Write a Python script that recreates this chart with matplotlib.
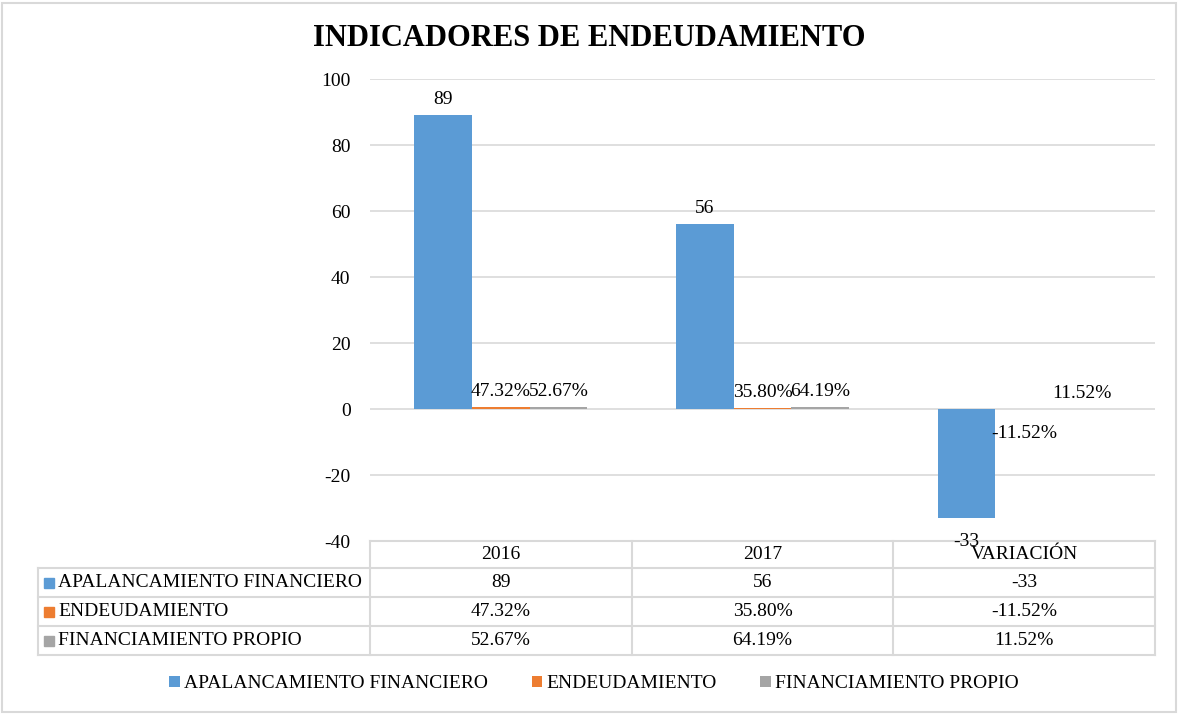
import matplotlib.pyplot as plt
from matplotlib.lines import Line2D
from matplotlib.patches import Rectangle
import numpy as np

plt.rcParams['font.family'] = ['Liberation Serif', 'DejaVu Serif']

# chart data
categories = ['2016', '2017', 'VARIACIÓN']
series_names = ['APALANCAMIENTO FINANCIERO', 'ENDEUDAMIENTO', 'FINANCIAMIENTO PROPIO']
apalancamiento = [89, 56, -33]
endeudamiento = [0.4732, 0.3580, -0.1152]
financiamiento = [0.5267, 0.6419, 0.1152]
colors = ['#5B9BD5', '#ED7D31', '#A5A5A5']
y_ticks = [-40, -20, 0, 20, 40, 60, 80, 100]


def fmt_int(v):
    return f'{v:.0f}'


def fmt_pct(v):
    return f'{v * 100:.2f}%'


series = [apalancamiento, endeudamiento, financiamiento]
formats = [fmt_int, fmt_pct, fmt_pct]

W, H = 1178, 715
fig = plt.figure(figsize=(W / 100, H / 100), dpi=100)


def fx(x):
    return x / W


def fy(y):
    return 1 - y / H


# plot area in pixels
left, right, top, bottom = 370, 1155, 79, 541
ax = fig.add_axes([fx(left), fy(bottom), fx(right) - fx(left), fy(top) - fy(bottom)])
ax.set_zorder(5)  # keep data labels above the table lines

x = np.arange(len(categories))
width = 0.22
for i, (vals, name, col, f) in enumerate(zip(series, series_names, colors, formats)):
    pos = x + (i - 1) * width
    ax.bar(pos, vals, width, color=col, label=name, zorder=3)
    # data labels: above positive bars, below negative ones
    for px_, v in zip(pos, vals):
        if v >= 0:
            ax.annotate(f(v), (px_, v), xytext=(0, 5), textcoords='offset points',
                        ha='center', va='bottom', fontsize=14, zorder=4)
        else:
            ax.annotate(f(v), (px_, v), xytext=(0, -11), textcoords='offset points',
                        ha='center', va='top', fontsize=14, zorder=4,
                        annotation_clip=False)

ax.set_xlim(-0.5, len(categories) - 0.5)
ax.set_ylim(-40, 100)
ax.set_yticks(y_ticks)
ax.set_yticklabels([str(t) for t in y_ticks], fontsize=14)
ax.set_xticks([])
ax.tick_params(axis='y', length=0, pad=14)
ax.grid(axis='y', color='#D9D9D9', linewidth=1.2, zorder=0)
for s in ax.spines.values():
    s.set_visible(False)
ax.set_facecolor('none')

# title
fig.text(fx(589), fy(38), 'INDICADORES DE ENDEUDAMIENTO', ha='center', va='center',
         fontsize=22, fontweight='bold')

# data table
line_col = '#D9D9D9'
row_lines = [541, 568, 597, 626, 655]
col_lines = [370, 632, 893, 1155]
tab_left = 38


def hline(y, x0, x1):
    fig.add_artist(Line2D([fx(x0), fx(x1)], [fy(y), fy(y)], color=line_col, linewidth=1.5))


def vline(x0, y0, y1):
    fig.add_artist(Line2D([fx(x0), fx(x0)], [fy(y0), fy(y1)], color=line_col, linewidth=1.5))


hline(row_lines[0], col_lines[0], col_lines[-1])
for y in row_lines[1:]:
    hline(y, tab_left, col_lines[-1])
for xc in col_lines:
    vline(xc, row_lines[0], row_lines[-1])
vline(tab_left, row_lines[1], row_lines[-1])

for j, cat in enumerate(categories):
    cx = (col_lines[j] + col_lines[j + 1]) / 2
    cy = (row_lines[0] + row_lines[1]) / 2
    fig.text(fx(cx), fy(cy), cat, ha='center', va='center', fontsize=14)

for i, (vals, name, col, f) in enumerate(zip(series, series_names, colors, formats)):
    cy = (row_lines[i + 1] + row_lines[i + 2]) / 2
    fig.add_artist(Rectangle((fx(44), fy(cy + 5)), fx(10), 10 / H, color=col, transform=fig.transFigure))
    fig.text(fx(58), fy(cy), name, ha='left', va='center', fontsize=14)
    for j, v in enumerate(vals):
        cx = (col_lines[j] + col_lines[j + 1]) / 2
        fig.text(fx(cx), fy(cy), f(v), ha='center', va='center', fontsize=14)

# legend
handles, labels = ax.get_legend_handles_labels()
fig.legend(handles, labels, loc='center', bbox_to_anchor=(fx(594), fy(684)), ncol=3,
           frameon=False, fontsize=14, handlelength=0.55, handleheight=0.55,
           handletextpad=0.2, columnspacing=2.25)

# chart border
fig.add_artist(Rectangle((fx(2), fy(712)), fx(1174), 709 / H, fill=False,
                         edgecolor='#D9D9D9', linewidth=1.5, transform=fig.transFigure))

fig.savefig('out.png', dpi=100)
